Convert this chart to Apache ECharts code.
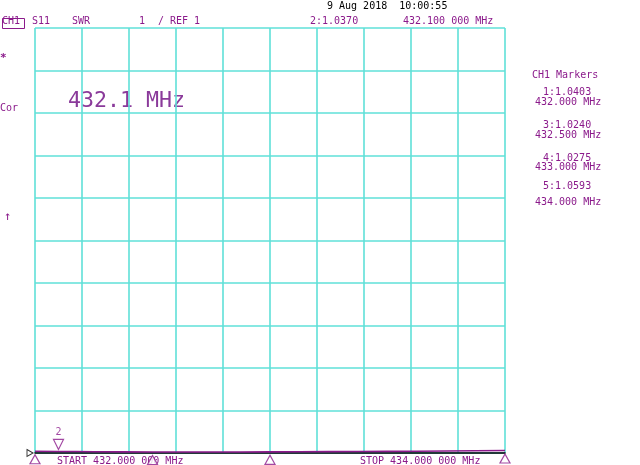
<!DOCTYPE html>
<html><head><meta charset="utf-8">
<script src="https://cdn.jsdelivr.net/npm/echarts@6/dist/echarts.min.js"></script>
<style>html,body{margin:0;padding:0;background:#fff}#c{width:640px;height:465px}</style>
</head><body><div id="c"></div>
<script>
// Trace readings (frequency MHz, SWR)
const freqs = [432.0, 432.1, 432.25, 432.5, 432.75, 433.0, 433.25, 433.5, 433.75, 434.0];
const swr   = [1.0403, 1.0370, 1.031, 1.0240, 1.024, 1.0275, 1.032, 1.038, 1.048, 1.0593];
// Markers
const markerIds   = ['1', '2', '3', '4', '5'];
const markerFreqs = [432.0, 432.1, 432.5, 433.0, 434.0];
const markerVals  = [1.0403, 1.0370, 1.0240, 1.0275, 1.0593];
const activeMarker = '2';
// Scale
const startF = 432.0, stopF = 434.0, refVal = 1, perDiv = 1, divs = 10;

const PURPLE = '#8b1a8b', CYAN = '#5fe0d8', FONT = 'DejaVu Sans Mono';
const chart = echarts.init(document.getElementById('c'), null, {renderer: 'canvas'});

const txt = (x, y, s, opt = {}) => ({
  type: 'text', left: x, top: y, silent: true,
  style: Object.assign({text: s, fill: PURPLE, font: '10px ' + FONT}, opt)
});

const passive = markerIds.map((id, i) => id === activeMarker ? null : [markerFreqs[i], markerVals[i]]).filter(Boolean);
const actIdx = markerIds.indexOf(activeMarker);

chart.setOption({
  animation: false,
  backgroundColor: '#fff',
  grid: {left: 35, right: 135, top: 28, bottom: 12},
  xAxis: {
    type: 'value', min: startF, max: stopF, interval: (stopF - startF) / divs,
    axisLabel: {show: false}, axisTick: {show: false},
    axisLine: {show: true, onZero: false, lineStyle: {color: '#000', width: 1.5}},
    splitLine: {show: true, lineStyle: {color: CYAN, width: 1.6}}
  },
  yAxis: {
    type: 'value', min: refVal, max: refVal + perDiv * divs, interval: perDiv,
    axisLabel: {show: false}, axisTick: {show: false},
    axisLine: {show: false},
    splitLine: {show: true, lineStyle: {color: CYAN, width: 1.6}}
  },
  graphic: [
    {type: 'rect', left: 0, top: 16, shape: {width: 22, height: 10}, style: {fill: 'none', stroke: PURPLE, lineWidth: 1}},
    txt(2, 16, 'CH1'),
    txt(32, 16, 'S11'),
    txt(72, 16, 'SWR'),
    txt(139, 16, '1'),
    txt(158, 16, '/ REF 1'),
    txt(310, 16, '2:1.0370'),
    txt(403, 16, '432.100 000 MHz'),
    txt(327, 1, '9 Aug 2018  10:00:55', {fill: '#000'}),
    txt(0, 53, '*', {font: 'bold 11px ' + FONT}),
    txt(0, 103, 'Cor'),
    txt(4, 211, '\u2191', {font: '12px ' + FONT}),
    txt(68, 90, '432.1 MHz', {font: '21.6px ' + FONT, fill: '#8a3a9a'}),
    txt(532, 70, 'CH1 Markers'),
    txt(543, 87, '1:1.0403'),
    txt(535, 97, '432.000 MHz'),
    txt(543, 120, '3:1.0240'),
    txt(535, 130, '432.500 MHz'),
    txt(543, 153, '4:1.0275'),
    txt(535, 162, '433.000 MHz'),
    txt(543, 181, '5:1.0593'),
    txt(535, 197, '434.000 MHz'),
    txt(57, 456, 'START 432.000 000 MHz'),
    txt(360, 456, 'STOP 434.000 000 MHz')
  ],
  series: [
    {
      type: 'line', data: freqs.map((f, i) => [f, swr[i]]), symbol: 'none', smooth: true,
      lineStyle: {color: PURPLE, width: 1.6}, z: 5, silent: true
    },
    {
      type: 'scatter', data: passive, symbol: 'triangle', symbolSize: [10, 9], symbolOffset: [0, 8],
      itemStyle: {color: '#fff', borderColor: PURPLE, borderWidth: 1.2}, clip: false, z: 6, silent: true
    },
    {
      type: 'scatter', data: [[markerFreqs[actIdx], markerVals[actIdx]]], symbol: 'triangle', symbolRotate: 180,
      symbolSize: [10, 10], symbolOffset: [0, -7],
      itemStyle: {color: '#fff', borderColor: PURPLE, borderWidth: 1.2}, clip: false, z: 6, silent: true,
      label: {show: true, formatter: activeMarker, position: 'top', distance: 1, color: PURPLE, fontFamily: FONT, fontSize: 10}
    },
    {
      type: 'scatter', data: [[startF, refVal]], symbol: 'path://M0,0 L10,5 L0,10 Z', symbolSize: [6, 7], symbolOffset: [-5, 0],
      itemStyle: {color: '#fff', borderColor: '#000', borderWidth: 1}, clip: false, z: 7, silent: true
    }
  ]
});
</script></body></html>
